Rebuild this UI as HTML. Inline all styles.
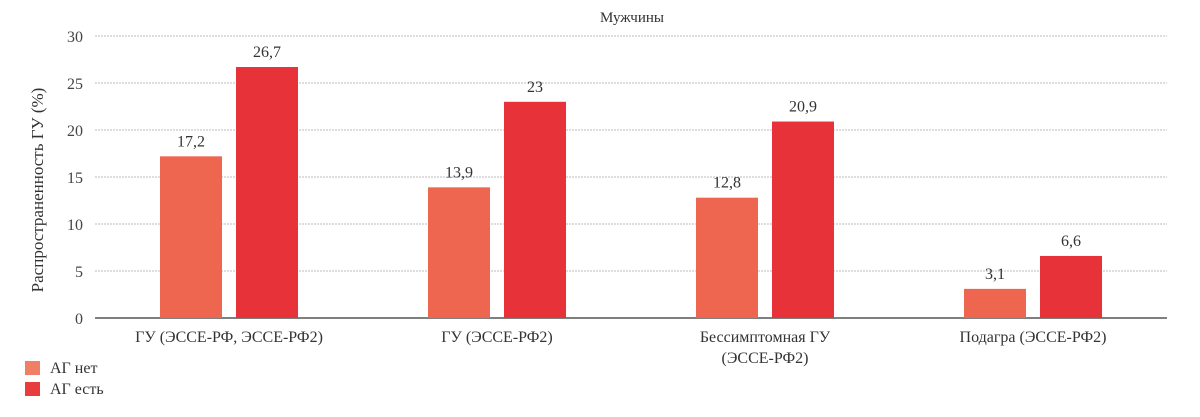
<!DOCTYPE html>
<html><head><meta charset="utf-8"><style>
body{margin:0;background:#fff;width:1200px;height:412px;overflow:hidden}
svg{font-family:"Liberation Serif","DejaVu Serif",serif}
</style></head><body>
<svg width="1200" height="412">
<text x="632" y="22" font-size="15" text-anchor="middle" fill="#333">Мужчины</text>
<text transform="translate(43,190) rotate(-90)" font-size="17" text-anchor="middle" fill="#333">Распространенность ГУ  (%)</text>
<g id="grid"></g><g id="bars"></g><g id="labels"></g>
<rect x="25" y="361" width="15" height="14" fill="#F07F65"/>
<text x="50" y="373" font-size="16" fill="#333">АГ нет</text>
<rect x="25" y="382" width="15" height="14" fill="#E83D3D"/>
<text x="50" y="394" font-size="16" fill="#333">АГ есть</text>
</svg>
<script>
const categories=[["ГУ (ЭССЕ-РФ, ЭССЕ-РФ2)"],["ГУ (ЭССЕ-РФ2)"],["Бессимптомная ГУ","(ЭССЕ-РФ2)"],["Подагра (ЭССЕ-РФ2)"]];
const seriesNo=[17.2,13.9,12.8,3.1];
const seriesYes=[26.7,23,20.9,6.6];
const yTicks=[0,5,10,15,20,25,30];
const NS="http://www.w3.org/2000/svg";
const x0=95,x1=1167,yTop=36,yBot=318,yMax=30;
const y=v=>yBot-(v/yMax)*(yBot-yTop);
const band=(x1-x0)/categories.length;
const cx=i=>x0+band*(i+0.5);
function mk(t,a,p){const e=document.createElementNS(NS,t);for(const k in a)e.setAttribute(k,a[k]);p.appendChild(e);return e;}
const grid=document.getElementById('grid'),bars=document.getElementById('bars'),labels=document.getElementById('labels');
yTicks.forEach(t=>{
 const l=mk('line',{x1:x0,x2:x1,y1:y(t),y2:y(t),stroke:t===0?'#555':'#bbb','stroke-width':t===0?1.5:1,'stroke-dasharray':t===0?'':'2,1'},grid);
 
 
 const tx=mk('text',{x:83,y:y(t)+6,'font-size':16,'text-anchor':'end',fill:'#444'},grid);
 tx.textContent=t;
 
 
});
const bw=62;
categories.forEach((c,i)=>{
 [[seriesNo[i],'#EE6650',cx(i)-69],[seriesYes[i],'#E8323A',cx(i)+7]].forEach(([v,col,bx],j)=>{
  const r=mk('rect',{x:bx,y:y(v),width:bw,height:yBot-y(v),fill:col},bars);
  
  
  const t=mk('text',{x:bx+bw/2,y:y(v)-10,'font-size':16,'text-anchor':'middle',fill:'#333'},labels);
  t.textContent=String(v).replace('.',',');
  
  
 });
 c.forEach((line,k)=>{
  const t=mk('text',{x:cx(i),y:342+k*21,'font-size':16,'text-anchor':'middle',fill:'#333'},labels);
  t.textContent=line;
  
  
 });
});
</script>
</body></html>
